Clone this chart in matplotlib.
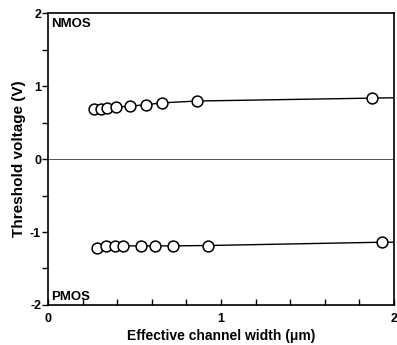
import matplotlib
matplotlib.use("Agg")
import matplotlib.pyplot as plt
from matplotlib.ticker import MultipleLocator

plt.rcParams['font.family'] = ['Liberation Sans', 'DejaVu Sans']
plt.rcParams['axes.unicode_minus'] = False

# Data
nmos_width = [0.266, 0.305, 0.341, 0.391, 0.474, 0.565, 0.661, 0.86, 1.875]
nmos_vth = [0.69, 0.69, 0.70, 0.71, 0.725, 0.745, 0.77, 0.795, 0.835]
pmos_width = [0.285, 0.335, 0.387, 0.435, 0.535, 0.62, 0.72, 0.925, 1.93]
pmos_vth = [-1.22, -1.19, -1.19, -1.19, -1.19, -1.19, -1.19, -1.185, -1.14]
# fitted line continues to the right edge of the plot
line_end_width = 2.0
nmos_line_end = 0.84
pmos_line_end = -1.14

xticks = [0, 1, 2]
xticklabels = ['0', '1', '2']
yticks = [-2, -1, 0, 1, 2]
yticklabels = ['-2', '-1', '0', '1', '2']

fig = plt.figure(figsize=(3.97, 3.45), dpi=100)
ax = fig.add_axes([0.121, 0.116, 0.871, 0.846])

ax.axhline(0, color='#555555', lw=0.7, zorder=1)

for w, v, end in [(nmos_width, nmos_vth, nmos_line_end), (pmos_width, pmos_vth, pmos_line_end)]:
    ax.plot(w + [line_end_width], v + [end], color='black', lw=1.0, zorder=2)
    ax.plot(w, v, linestyle='none', marker='o', markersize=7.8, markerfacecolor='white',
            markeredgecolor='black', markeredgewidth=1.1, zorder=3)

ax.set_xlim(0, 2)
ax.set_ylim(-2, 2)
ax.set_xticks(xticks)
ax.set_xticklabels(xticklabels, fontsize=9, fontweight='bold')
ax.set_yticks(yticks)
ax.set_yticklabels(yticklabels, fontsize=9, fontweight='bold')
ax.xaxis.set_minor_locator(MultipleLocator(0.2))
ax.yaxis.set_minor_locator(MultipleLocator(0.5))
ax.tick_params(axis='x', which='both', direction='in', length=4, width=1, pad=6)
ax.tick_params(axis='y', which='both', direction='out', length=4, width=1, pad=1)
for s in ax.spines.values():
    s.set_linewidth(1.2)

ax.set_xlabel('Effective channel width (\u03bcm)', fontsize=10, fontweight='bold', labelpad=3)
ax.set_ylabel('Threshold voltage (V)', fontsize=11, fontweight='bold', labelpad=3)

ax.text(0.02, 1.93, 'NMOS', fontsize=9.5, fontweight='bold', ha='left', va='top')
ax.text(0.02, -1.97, 'PMOS', fontsize=9.5, fontweight='bold', ha='left', va='bottom')

fig.savefig('out.png', dpi=100)
